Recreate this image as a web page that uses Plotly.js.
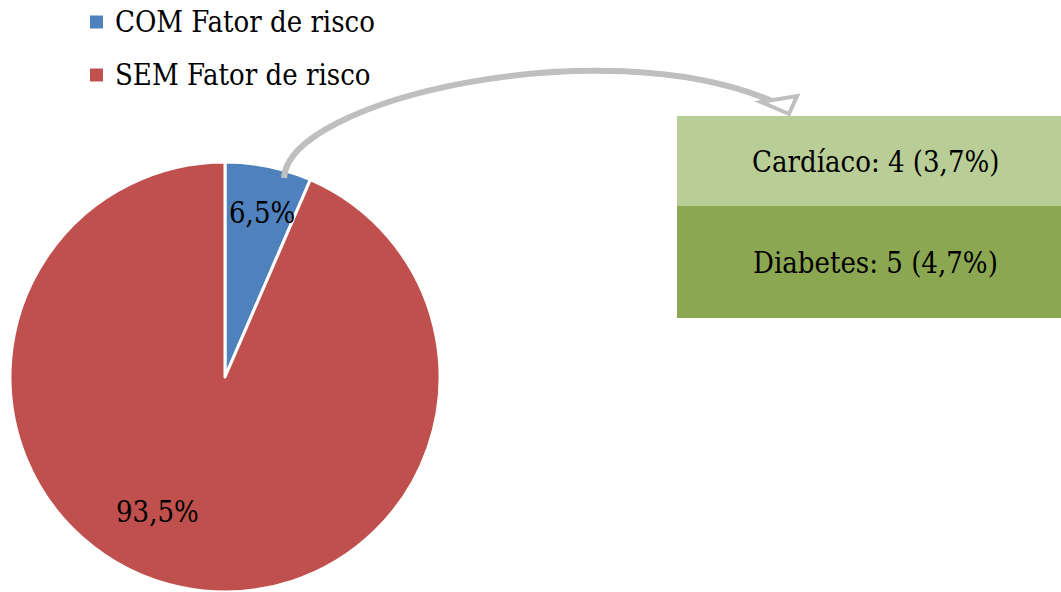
<!DOCTYPE html>
<html>
<head>
<meta charset="utf-8">
<script src="https://cdn.plot.ly/plotly-3.0.1.min.js"></script>
<style>
  html, body { margin: 0; padding: 0; background: #fff; }
  #chart { width: 1061px; height: 592px; }
</style>
</head>
<body>
<div id="chart"></div>
<script>
// pie data
const labels = ['COM Fator de risco', 'SEM Fator de risco'];
const values = [6.5, 93.5];
const valueText = ['6,5%', '93,5%'];
const colors = ['#4F81BD', '#C0504D'];

// breakdown of the "COM" slice
const riskLabels = ['Cardíaco: 4 (3,7%)', 'Diabetes: 5 (4,7%)'];
const riskColors = ['#B9CD96', '#8BA752'];

const FONT = 'DejaVu Serif Condensed, DejaVu Serif, serif';
const FS = 29;

const pie = {
  type: 'pie',
  labels, values,
  sort: false,
  direction: 'clockwise',
  rotation: 0,
  marker: { colors, line: { color: '#ffffff', width: 3 } },
  textinfo: 'none',
  hoverinfo: 'label+percent',
  showlegend: false,
  domain: { x: [10 / 1061, 440 / 1061], y: [0, 430 / 592] },
};

const shapes = [];
const annotations = [];

// legend drawn by hand (squares + labels)
labels.forEach((lab, i) => {
  const cy = 22 + i * 53;
  shapes.push({
    type: 'rect', xref: 'x', yref: 'y',
    x0: 90, x1: 103, y0: cy - 6.5, y1: cy + 6.5,
    fillcolor: colors[i], line: { width: 0 },
  });
  annotations.push({
    xref: 'x', yref: 'y', x: 113, y: cy, xanchor: 'left', yanchor: 'middle',
    text: lab, showarrow: false, font: { family: FONT, size: FS, color: '#000' },
  });
});

// slice labels
const labelPos = [[262, 213], [157, 512]];
valueText.forEach((t, i) => {
  annotations.push({
    xref: 'x', yref: 'y', x: labelPos[i][0], y: labelPos[i][1],
    text: t, showarrow: false, font: { family: FONT, size: FS, color: '#000' },
  });
});

// breakdown boxes
const boxY = [[116, 206], [206, 318]];
riskLabels.forEach((t, i) => {
  shapes.push({
    type: 'rect', xref: 'x', yref: 'y',
    x0: 677, x1: 1061, y0: boxY[i][0], y1: boxY[i][1],
    fillcolor: riskColors[i], line: { width: 0 }, layer: 'below',
  });
  annotations.push({
    xref: 'x', yref: 'y', x: 875, y: (boxY[i][0] + boxY[i][1]) / 2 + 1,
    text: t, showarrow: false, font: { family: FONT, size: FS, color: '#000' },
  });
});

// curved connector arrow
shapes.push({
  type: 'path', xref: 'x', yref: 'y',
  path: 'M 284 178 C 288 100, 600 28, 772 101',
  line: { color: '#BFBFBF', width: 6 },
});
shapes.push({
  type: 'path', xref: 'x', yref: 'y',
  path: 'M 761 102 L 797 96 L 789 114 Z',
  fillcolor: '#ffffff', line: { color: '#BFBFBF', width: 4 },
});

const layout = {
  width: 1061, height: 592,
  margin: { t: 0, r: 0, b: 0, l: 0 },
  paper_bgcolor: '#ffffff',
  plot_bgcolor: 'rgba(0,0,0,0)',
  xaxis: { range: [0, 1061], visible: false, fixedrange: true },
  yaxis: { range: [592, 0], visible: false, fixedrange: true },
  showlegend: false,
  shapes, annotations,
};

Plotly.newPlot('chart', [pie], layout, { displayModeBar: false, staticPlot: true });
</script>
</body>
</html>
